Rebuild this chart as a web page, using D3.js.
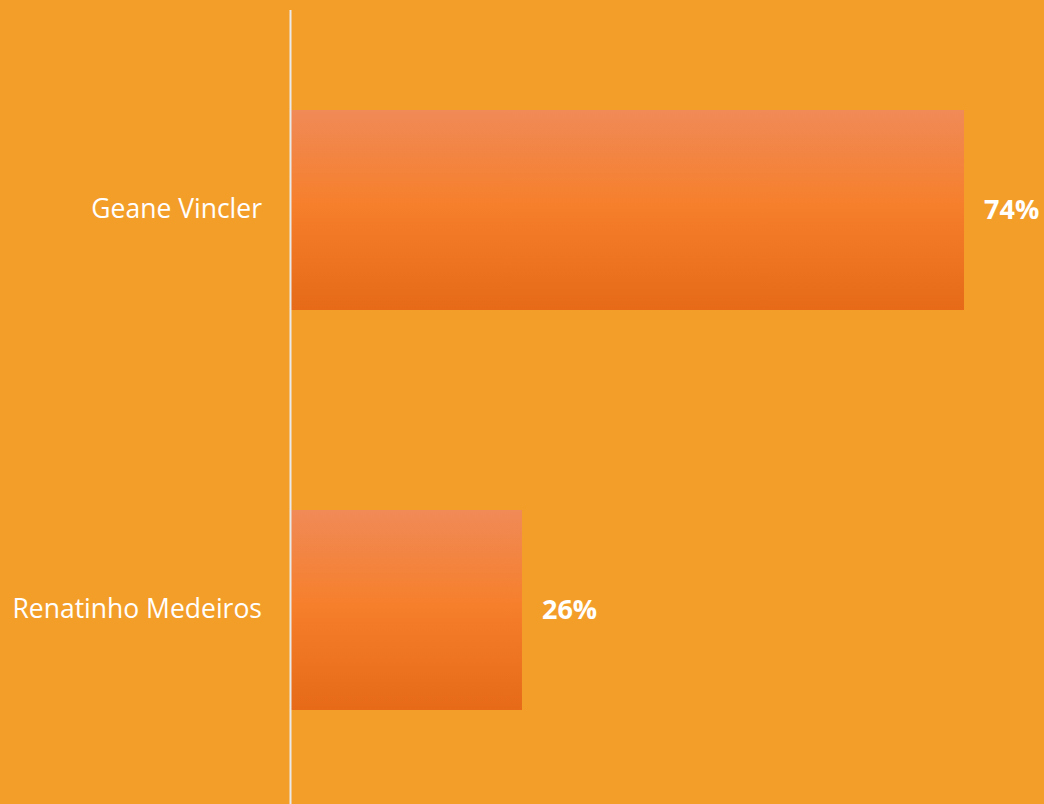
<!DOCTYPE html>
<html>
<head>
<meta charset="utf-8">
<script src="https://cdn.jsdelivr.net/npm/d3@7"></script>
<style>
  body { margin: 0; background: #f49e2a; }
  svg { display: block; }
  text { font-family: "Open Sans", sans-serif; fill: #fff; }
</style>
</head>
<body>
<svg id="chart" width="1044" height="804"></svg>
<script>
// data
var names = ["Geane Vincler", "Renatinho Medeiros"];
var shares = [74.45, 25.55];
var shareLabels = ["74%", "26%"];

var svg = d3.select("#chart");
var W = 1044, H = 804;
var left = 291;

svg.append("rect").attr("width", W).attr("height", H).attr("fill", "#f49e2a");

var defs = svg.append("defs");
var grad = defs.append("linearGradient")
    .attr("id", "barGrad")
    .attr("x1", 0).attr("y1", 0).attr("x2", 0).attr("y2", 1);
grad.append("stop").attr("offset", "0%").attr("stop-color", "#f08a57");
grad.append("stop").attr("offset", "48%").attr("stop-color", "#f67f2b");
grad.append("stop").attr("offset", "100%").attr("stop-color", "#e66a18");

var xScale = d3.scaleLinear().domain([0, 100]).range([left, left + 904]);
var yScale = d3.scaleBand().domain(names).range([10, 810])
    .paddingInner(0.5).paddingOuter(0.25);

svg.selectAll("rect.bar")
    .data(names)
    .enter().append("rect")
    .attr("class", "bar")
    .attr("x", xScale(0))
    .attr("y", function (d) { return yScale(d); })
    .attr("width", function (d, i) { return xScale(shares[i]) - xScale(0); })
    .attr("height", yScale.bandwidth())
    .attr("fill", "url(#barGrad)");

// axis line
svg.append("line")
    .attr("x1", left - 0.5).attr("x2", left - 0.5)
    .attr("y1", 10).attr("y2", H)
    .attr("stroke", "#e9e9e9").attr("stroke-width", 2);

// category labels
svg.selectAll("text.cat")
    .data(names)
    .enter().append("text")
    .attr("class", "cat")
    .attr("x", 262)
    .attr("y", function (d) { return yScale(d) + yScale.bandwidth() / 2; })
    .attr("dy", "0.3em")
    .attr("text-anchor", "end")
    .style("font-size", "26.5px")
    .text(function (d) { return d; });

// value labels
svg.selectAll("text.val")
    .data(names)
    .enter().append("text")
    .attr("class", "val")
    .attr("x", function (d, i) { return xScale(shares[i]) + 20; })
    .attr("y", function (d) { return yScale(d) + yScale.bandwidth() / 2; })
    .attr("dy", "0.35em")
    .style("font-size", "27px")
    .style("font-weight", "bold")
    .text(function (d, i) { return shareLabels[i]; });
</script>
</body>
</html>
